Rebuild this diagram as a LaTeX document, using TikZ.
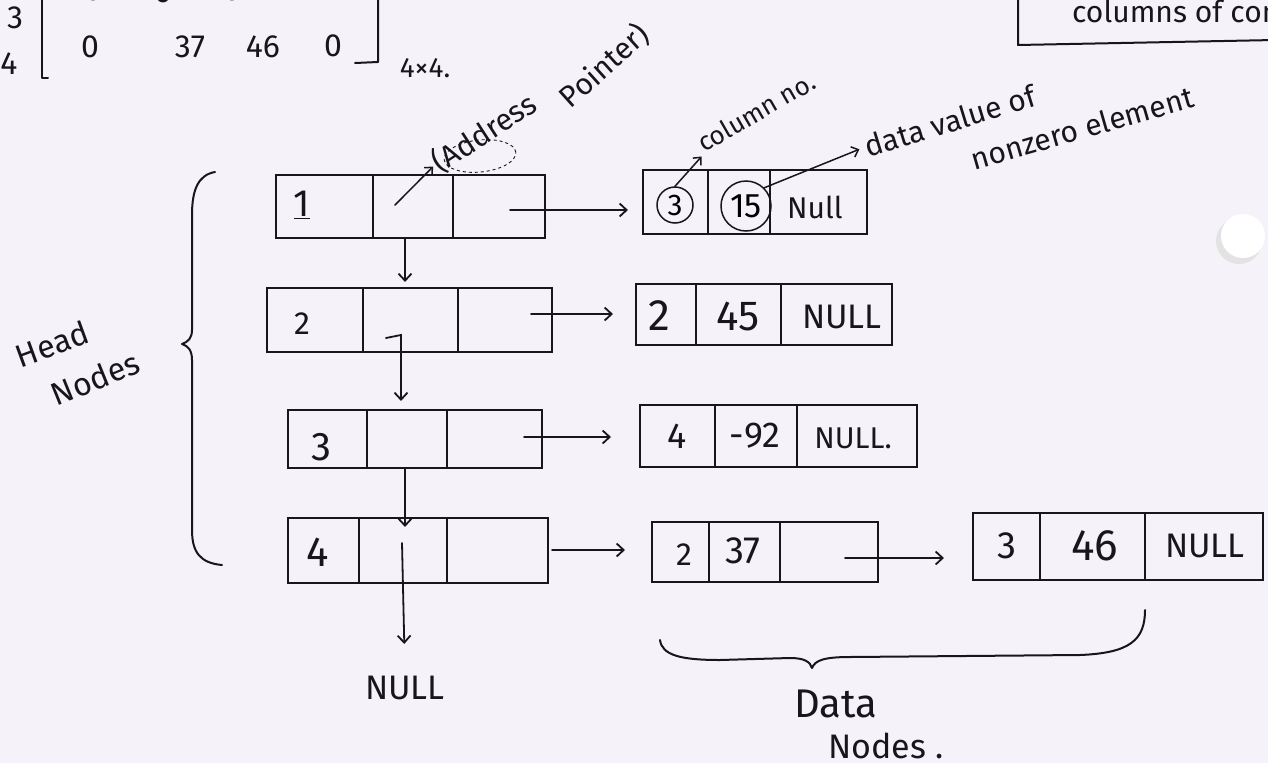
\documentclass[tikz,border=0pt]{standalone}
\usepackage{fontspec}
\setmainfont{Fira Sans}
\usetikzlibrary{arrows.meta}
\definecolor{paper}{RGB}{246,242,250}
\definecolor{ink}{RGB}{22,22,28}
\newcommand{\fsz}[1]{\fontsize{#1}{#1}\selectfont}
\begin{document}
\begin{tikzpicture}[x=1pt,y=-1pt,
  cell/.style={draw=ink,line width=2.1pt,inner sep=0pt},
  txt/.style={text=ink,inner sep=0pt,anchor=center},
  arr/.style={draw=ink,line width=1.8pt,line cap=round,-{Straight Barb[length=7pt,width=13pt]}},
  thinarr/.style={draw=ink,line width=1.5pt,line cap=round,-{Straight Barb[length=6pt,width=11pt]}},
  ring/.style={draw=ink,line width=1.5pt,circle,inner sep=0pt},
  inkline/.style={draw=ink,line width=2pt,line cap=round,line join=round}]
\fill[paper] (0,0) rectangle (1268,763);
\useasboundingbox (0,0) rectangle (1268,763);
\clip (0,0) rectangle (1268,763);

% punch hole
\fill[gray!22] (1239,241) circle (23);
\fill[white] (1243,236) circle (22);

% ---- matrix fragment ----
\node[txt,font=\fsz{32}] (m3) at (15,18) {3};
\node[txt,font=\fsz{32}] (m4) at (9,64) {4};
\draw[inkline] (42,-5) -- (42,78) -- (48,78);
\draw[inkline] (378,-5) -- (378,62) -- (355,63);
\node[txt,font=\fsz{32}] (r3a) at (93,-10) {0};
\node[txt,font=\fsz{32}] (r3b) at (163,-8) {0};
\node[txt,font=\fsz{32}] (r3c) at (232,-10) {0};
\node[txt,font=\fsz{32}] (r4a) at (90,47) {0};
\node[txt,font=\fsz{32}] (r4b) at (190,47) {37};
\node[txt,font=\fsz{32}] (r4c) at (263,47) {46};
\node[txt,font=\fsz{32}] (r4d) at (333,46) {0};
\node[txt,font=\fsz{28}] (dim) at (425,68) {4×4.};

% ---- top-right box ----
\draw[inkline] (1018,-5) -- (1018,45) -- (1275,40);
\node[txt,font=\fsz{30},anchor=west] (cols) at (1072,11) {columns of con};

% ---- head nodes ----
\node[cell,minimum width=97pt,minimum height=63pt] (h1a) at (324.5,206.5) {};
\node[cell,minimum width=80pt,minimum height=63pt] (h1b) at (413,206.5) {};
\node[cell,minimum width=92pt,minimum height=63pt] (h1c) at (499,206.5) {};
\node[cell,minimum width=96pt,minimum height=64pt] (h2a) at (315,320) {};
\node[cell,minimum width=95pt,minimum height=64pt] (h2b) at (410.5,320) {};
\node[cell,minimum width=94pt,minimum height=64pt] (h2c) at (505,320) {};
\node[cell,minimum width=79pt,minimum height=58pt] (h3a) at (327.5,439) {};
\node[cell,minimum width=80pt,minimum height=58pt] (h3b) at (407,439) {};
\node[cell,minimum width=95pt,minimum height=58pt] (h3c) at (494.5,439) {};
\node[cell,minimum width=71pt,minimum height=65pt] (h4a) at (323.5,550.5) {};
\node[cell,minimum width=88pt,minimum height=65pt] (h4b) at (403,550.5) {};
\node[cell,minimum width=101pt,minimum height=65pt] (h4c) at (497.5,550.5) {};
\node[txt,font=\fsz{38}] (t1) at (302,205) {\underline{1}};
\node[txt,font=\fsz{32}] (t2) at (302,324) {2};
\node[txt,font=\fsz{40}] (t3) at (321,447) {3};
\node[txt,font=\fsz{42}] (t4) at (318,552) {4};

% ---- data nodes ----
\node[cell,minimum width=65pt,minimum height=64pt] (d1a) at (675.5,202) {};
\node[cell,minimum width=62pt,minimum height=64pt] (d1b) at (739,202) {};
\node[cell,minimum width=97pt,minimum height=64pt] (d1c) at (818.5,202) {};
\node[ring,minimum size=36pt,font=\fsz{30}] (c3) at (675,205) {3};
\node[ring,minimum size=50pt,font=\fsz{34}] (c15) at (746,206) {15};
\node[txt,font=\fsz{30}] (n1) at (815,207) {Null};

\node[cell,minimum width=60pt,minimum height=61pt] (d2a) at (666,314.5) {};
\node[cell,minimum width=85pt,minimum height=61pt] (d2b) at (738.5,314.5) {};
\node[cell,minimum width=111pt,minimum height=61pt] (d2c) at (836.5,314.5) {};
\node[txt,font=\fsz{44}] (e2a) at (659,316) {2};
\node[txt,font=\fsz{42}] (e2b) at (738,316) {45};
\node[txt,font=\fsz{34}] (e2c) at (842,317) {NULL};

\node[cell,minimum width=75pt,minimum height=62pt] (d3a) at (677.5,436) {};
\node[cell,minimum width=82pt,minimum height=62pt] (d3b) at (756,436) {};
\node[cell,minimum width=120pt,minimum height=62pt] (d3c) at (857,436) {};
\node[txt,font=\fsz{36}] (e3a) at (677,436) {4};
\node[txt,font=\fsz{36}] (e3b) at (755,436) {-92};
\node[txt,font=\fsz{30}] (e3c) at (853,438) {NULL.};

\node[cell,minimum width=57pt,minimum height=60pt] (d4a) at (680.5,552) {};
\node[cell,minimum width=71pt,minimum height=60pt] (d4b) at (744.5,552) {};
\node[cell,minimum width=98pt,minimum height=60pt] (d4c) at (829,552) {};
\node[txt,font=\fsz{32}] (e4a) at (684,555) {2};
\node[txt,font=\fsz{38}] (e4b) at (743,551) {37};

\node[cell,minimum width=67pt,minimum height=67pt] (d5a) at (1006.5,546.5) {};
\node[cell,minimum width=105pt,minimum height=67pt] (d5b) at (1092.5,546.5) {};
\node[cell,minimum width=118pt,minimum height=67pt] (d5c) at (1204,546.5) {};
\node[txt,font=\fsz{38}] (e5a) at (1007,546) {3};
\node[txt,font=\fsz{44}] (e5b) at (1095,546) {46};
\node[txt,font=\fsz{34}] (e5c) at (1205,546) {NULL};

% ---- horizontal pointers ----
\coordinate (s1) at (510,210);
\coordinate (s2) at (531,314);
\coordinate (s3) at (524,437);
\coordinate (s4) at (552,550);
\coordinate (s5) at (845,558);
\draw[arr,shorten >=14pt] (s1) -- (s1 -| d1a.west);
\draw[arr,shorten >=22pt] (s2) -- (s2 -| d2a.west);
\draw[arr,shorten >=28pt] (s3) -- (s3 -| d3a.west);
\draw[arr,shorten >=26pt] (s4) -- (s4 -| d4a.west);
\draw[arr,shorten >=28pt] (s5) -- (s5 -| d5a.west);

% ---- vertical pointers ----
\coordinate (v1) at (405,238);
\draw[arr,shorten >=5pt] (v1) -- (v1 |- h2b.north);
\coordinate (v2) at (386,338);
\draw[arr,shorten >=8pt] (v2) -- ++(15,-3) -- ([xshift=-6pt]h3b.north);
\draw[arr] ([xshift=-2pt]h3b.south) -- ([xshift=2pt,yshift=-10pt]h4b.north);
\node[txt,font=\fsz{34}] (nullb) at (405,688) {NULL};
\coordinate (v4) at (402,543);
\draw[arr,shorten >=32pt] (v4) -- (nullb.north);

% ---- annotations ----
\node[txt,font=\fsz{30},rotate=33] (addr) at (484,133) {(Address};
\node[txt,font=\fsz{30},rotate=42] (ptr) at (604,66) {Pointer)};
\draw[ink,line width=0.9pt,dashed,rotate around={6:(480,156)}] (480,156) ellipse (36pt and 16pt);
\coordinate (pa) at (395,205);
\draw[thinarr,shorten >=2pt] (pa) -- (addr.west);

\node[txt,font=\fsz{26},rotate=30] (colno) at (756,112) {column no.};
\draw[thinarr,shorten >=4pt] (c3.north) -- (colno.south west);
\node[txt,font=\fsz{30},rotate=17] (dv) at (950,121) {data value of};
\node[txt,font=\fsz{30},rotate=16] (nz) at (1082,128) {nonzero element};
\draw[thinarr,shorten >=6pt] (c15.north east) -- (dv.west);

% ---- braces ----
\draw[inkline] (215,172) .. controls (198,175) and (192,190) .. (192,215) -- (192,330)
  .. controls (192,338) and (188,342) .. (182,344)
  .. controls (188,346) and (192,350) .. (192,360) -- (192,530)
  .. controls (192,552) and (200,563) .. (222,565);
\node[txt,font=\fsz{32},rotate=20] (headl) at (52,344) {Head};
\node[txt,font=\fsz{32},rotate=22] (nodesl) at (95,378) {Nodes};

\draw[inkline] (660,640) .. controls (662,655) and (680,660) .. (720,660) -- (790,658)
  .. controls (805,658) and (810,662) .. (812,668)
  .. controls (815,660) and (825,657) .. (850,657) -- (1080,655)
  .. controls (1130,653) and (1145,640) .. (1145,610);
\node[txt,font=\fsz{40}] (datal) at (836,704) {Data};
\node[txt,font=\fsz{34}] (nodesd) at (886,746) {Nodes .};
\end{tikzpicture}
\end{document}
